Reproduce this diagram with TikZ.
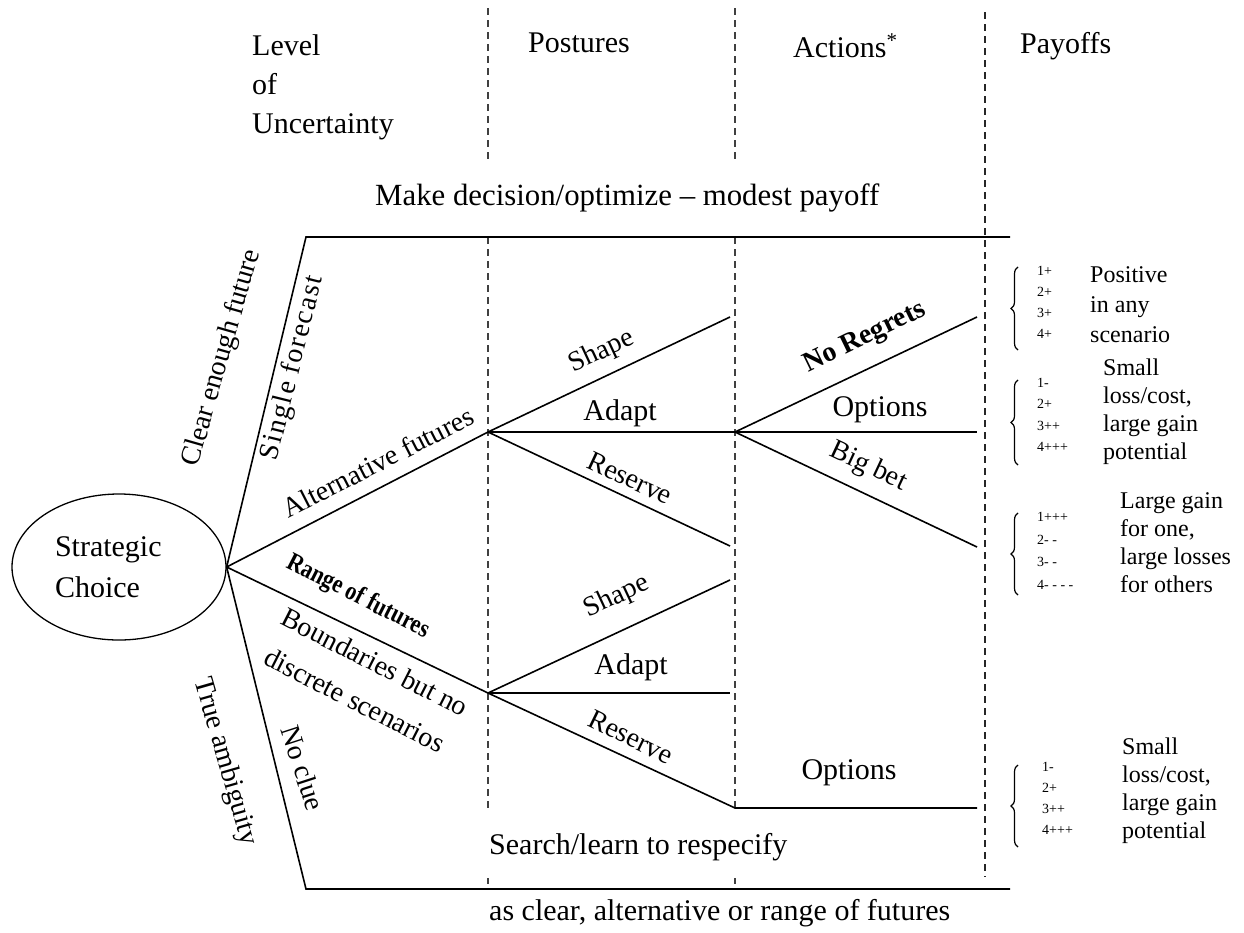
\documentclass[tikz,border=0pt]{standalone}
\usepackage{fontspec}
\setmainfont{Liberation Serif}
\usetikzlibrary{shapes.geometric,decorations.pathreplacing}
\begin{document}
\begin{tikzpicture}[x=1pt,y=-1pt,
  txt/.style={inner sep=0pt, font=\fontsize{30}{39}\selectfont},
  rot/.style={inner sep=0pt, font=\fontsize{28}{34}\selectfont},
  branch/.style={line width=1.6pt, draw=black},
  sepline/.style={line width=1.5pt, draw=black!75, dash pattern=on 7pt off 5pt},
  wrd/.style={inner sep=0pt, anchor=west, align=left, font=\fontsize{24}{28}\selectfont},
  dig/.style={inner sep=0pt, anchor=west, align=left, font=\fontsize{14}{21}\selectfont},
  brc/.style={line width=1.2pt, decorate, decoration={brace, amplitude=7pt}},
]
\useasboundingbox (0,0) rectangle (1244,932);

% column separators
\draw[sepline] (488,8) -- (488,163);
\draw[sepline] (488,237) -- (488,812);
\draw[sepline] (488,878) -- (488,884);
\draw[sepline] (735,8) -- (735,163);
\draw[sepline] (735,237) -- (735,808);
\draw[sepline] (735,878) -- (735,884);
\draw[sepline, draw=black!85] (985,12) -- (985,877);

% headers
\node[txt, anchor=base west] (h1) at (252,55) {Level};
\node[txt, anchor=base west] (h2) at (252,94) {of};
\node[txt, anchor=base west] (h3) at (252,133) {Uncertainty};
\node[txt, anchor=base west] (h4) at (528,52) {Postures};
\node[txt, anchor=base west] (h5) at (793,57) {Actions\textsuperscript{*}};
\node[txt, anchor=base west] (h6) at (1020,53) {Payoffs};
\node[txt, anchor=base west, font=\fontsize{30.8}{39}\selectfont] (md) at (375,205) {Make decision/optimize -- modest payoff};

% strategic choice
\node[ellipse, draw, line width=1.3pt, minimum width=214pt, minimum height=146pt,
      inner sep=0pt, text width=128pt, align=left,
      font=\fontsize{30}{41}\selectfont] (sc) at (119,567) {Strategic\\Choice};

% coordinates
\coordinate (O) at (sc.east);
\coordinate (TL) at (306,237);
\coordinate (TR) at (1010,237);
\coordinate (BL) at (306,889);
\coordinate (BR) at (1010,889);
\coordinate (A) at (488,432);
\coordinate (R) at (488,693);
\coordinate (B) at (735,432);
\coordinate (As) at (730,317);
\coordinate (Ar) at (730,546);
\coordinate (Bn) at (977,317);
\coordinate (Bo) at (977,432);
\coordinate (Bb) at (977,547);
\coordinate (Rs) at (730,580);
\coordinate (Ra) at (730,693);
\coordinate (Rr) at (735,808);
\coordinate (Ro) at (977,808);

% branches
\draw[branch] (O) -- (TL) -- (TR);
\draw[branch] (O) -- (BL) -- (BR);
\draw[branch] (O) -- (A);
\draw[branch] (O) -- (R);
\draw[branch] (A) -- (As);
\draw[branch] (A) -- (B);
\draw[branch] (A) -- (Ar);
\draw[branch] (B) -- (Bn);
\draw[branch] (B) -- (Bo);
\draw[branch] (B) -- (Bb);
\draw[branch] (R) -- (Rs);
\draw[branch] (R) -- (Ra);
\draw[branch] (R) -- (Rr) -- (Ro);

% level labels
\node[rot, rotate=74] (cef) at (222,358) {Clear enough future};
\node[rot, rotate=76, font=\fontsize{28}{34}\selectfont\addfontfeature{LetterSpace=6}] (sfc) at (293,368) {Single forecast};
\node[rot, rotate=27] (alf) at (378,462) {Alternative futures};
\node[rot, rotate=-27, font=\fontsize{26}{30}\selectfont\bfseries] (rgf) at (358,597) {\scalebox{0.85}[1]{Range of futures}};
\node[rot, rotate=-27] (bd1) at (375,662) {Boundaries but no};
\node[rot, rotate=-27] (bd2) at (355,700) {discrete scenarios};
\node[rot, rotate=-74] (tam) at (225,762) {True ambiguity};
\node[rot, rotate=-72] (ncl) at (303,768) {No clue};

% postures
\node[rot, rotate=25] (ps1) at (602,352) {Shape};
\node[txt] (pa1) at (620,413) {Adapt};
\node[rot, rotate=-25] (pr1) at (630,478) {Reserve};
\node[rot, rotate=25] (ps2) at (617,597) {Shape};
\node[txt] (pa2) at (631,667) {Adapt};
\node[rot, rotate=-26] (pr2) at (631,737) {Reserve};

% actions
\node[rot, rotate=26, font=\fontsize{28}{34}\selectfont\bfseries] (anr) at (865,338) {No Regrets};
\node[txt] (aop) at (880,410) {Options};
\node[rot, rotate=-25] (abb) at (868,467) {Big bet};
\node[txt] (aop2) at (849,773) {Options};

\node[txt, anchor=west] (srch) at (489,847) {Search/learn to respecify};
\node[txt, anchor=west] (asc) at (489,913) {as clear, alternative or range of futures};

% payoffs
\draw[brc] (1018,350) -- (1018,267);
\node[dig] (d1) at (1037,302) {1+\\2+\\3+\\4+};
\node[wrd, font=\fontsize{24}{30}\selectfont] (w1) at (1090,305) {Positive\\in any\\scenario};

\draw[brc] (1018,465) -- (1018,380);
\node[dig, font=\fontsize{14}{21.5}\selectfont] (d2) at (1037,415) {1-\\2+\\3++\\4+++};
\node[wrd] (w2) at (1103,412) {Small\\loss/cost,\\large gain\\potential};

\draw[brc] (1018,595) -- (1018,513);
\node[dig, font=\fontsize{14}{22.5}\selectfont] (d3) at (1037,551) {1+++\\2- -\\3- -\\4- - - -};
\node[wrd] (w3) at (1120,543) {Large gain\\for one,\\large losses\\for others};

\draw[brc] (1018,847) -- (1018,765);
\node[dig] (d4) at (1042,798) {1-\\2+\\3++\\4+++};
\node[wrd] (w4) at (1122,791) {Small\\loss/cost,\\large gain\\potential};
\end{tikzpicture}
\end{document}
